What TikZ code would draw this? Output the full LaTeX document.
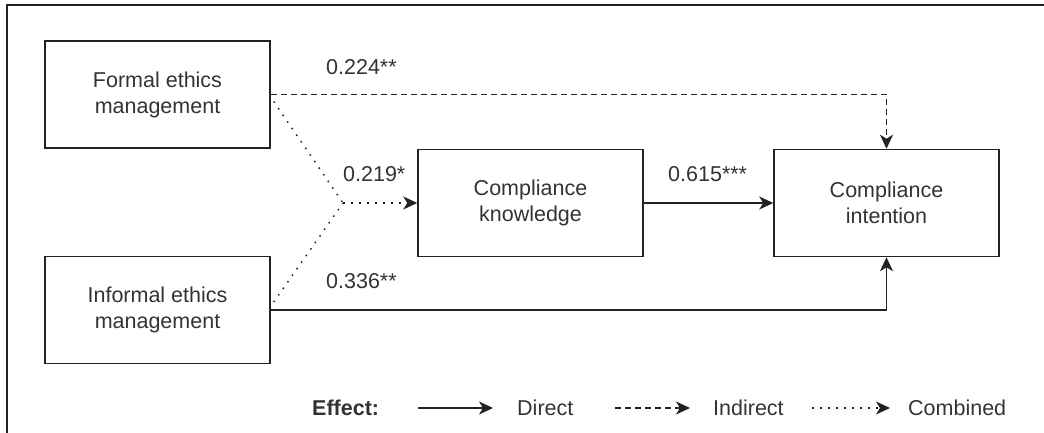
\documentclass[tikz,border=0pt]{standalone}
\usepackage{fontspec}
\setmainfont{Liberation Sans}
\usetikzlibrary{arrows.meta,calc}
\definecolor{ink}{HTML}{222222}
\definecolor{txt}{HTML}{333333}
\begin{document}
\begin{tikzpicture}[x=1pt,y=-1pt,
  box/.style={draw=ink,line width=1.5pt,minimum width=225pt,minimum height=107pt,align=center,text=txt,font=\fontsize{21.5}{26}\selectfont,inner sep=0pt},
  lbl/.style={text=txt,font=\fontsize{21.5}{26}\selectfont,inner sep=0pt,anchor=base west},
  tip/.style={-{Stealth[length=14pt,width=13pt,inset=4pt]}},
  conn/.style={draw=ink,line width=1.5pt,tip},
  dashedline/.style={dash pattern=on 6pt off 4pt},
  dotline/.style={draw=ink,line width=1.5pt,dash pattern=on 1.5pt off 6.5pt}
]
\useasboundingbox (0,0) rectangle (1044,433);
\draw[ink,line width=1.5pt] (7,433) -- (7,5) -- (1044,5);

\node[box] (formal) at (157.5,94.5) {Formal ethics\\management};
\node[box] (informal) at (157.5,310) {Informal ethics\\management};
\node[box] (know) at (530.5,203) {Compliance\\knowledge};
\node[box] (intent) at (886.5,203) {Compliance\\intention};

\draw[conn,dashedline] (formal.east) -- (formal.east -| intent.north) -- (intent.north);
\draw[conn] (informal.east) -- (informal.east -| intent.south) -- (intent.south);
\draw[conn] (know.east) -- (intent.west);
\coordinate (j) at (343,203);
\draw[dotline] ($(formal.east)+(3,7)$) -- (j);
\draw[dotline] ($(informal.east)+(3,-8)$) -- (j);
\draw[dotline,tip] (j) -- (know.west);

\node[lbl] (l1) at (326,75) {0.224**};
\node[lbl] (l2) at (343,182) {0.219*};
\node[lbl] (l3) at (326,288) {0.336**};
\node[lbl] (l4) at (668,182) {0.615***};

\node[lbl,font=\bfseries\fontsize{21.5}{26}\selectfont] (eff) at (312,415) {Effect:};
\coordinate (a1s) at (418,408); \coordinate (a1e) at (493,408);
\coordinate (a2s) at (615,408); \coordinate (a2e) at (690,408);
\coordinate (a3s) at (812,408); \coordinate (a3e) at (890,408);
\draw[conn] (a1s) -- (a1e);
\draw[conn,dashedline] (a2s) -- (a2e);
\draw[dotline,tip] (a3s) -- (a3e);
\node[lbl] (d1) at (517,415) {Direct};
\node[lbl] (d2) at (713,415) {Indirect};
\node[lbl] (d3) at (908,415) {Combined};
\end{tikzpicture}
\end{document}
